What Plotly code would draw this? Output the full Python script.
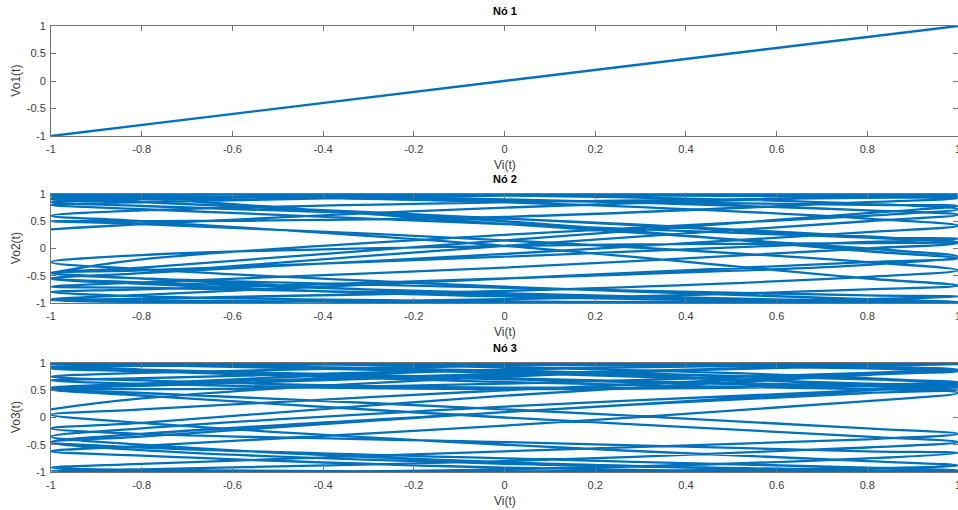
import plotly.graph_objects as go

# ---------------- data ----------------
titles = ["Nó 1", "Nó 2", "Nó 3"]
y_titles = ["Vo1(t)", "Vo2(t)", "Vo3(t)"]
x_title = "Vi(t)"
x_ticks = [-1, -0.8, -0.6, -0.4, -0.2, 0, 0.2, 0.4, 0.6, 0.8, 1]
x_ticklabels = ["-1", "-0.8", "-0.6", "-0.4", "-0.2", "0", "0.2", "0.4", "0.6", "0.8", "1"]
y_ticks = [-1, -0.5, 0, 0.5, 1]
y_ticklabels = ["-1", "-0.5", "0", "0.5", "1"]

# Node 1: output equals input
vi_node1 = [-1, 1]
vo_node1 = [-1, 1]

# Vi(t) knots for one full back-and-forth cycle (left edge -> right edge -> left edge)
vi_sweep_cycle = [-1, -0.8, 0, 0.8, 1, 0.8, 0, -0.8]

# Node 2: Vo2 read at each Vi knot, one row per sweep (first row includes its start edge)
vo_node2_sweeps = [
    [-0.45, -0.20, 0.25, 0.60, 0.72],
    [0.82, 0.97, 0.99, 0.97],
    [0.92, 0.45, 0.00, -0.15],
    [-0.30, -0.55, -0.75, -0.80],
    [-0.88, -0.97, -1.00, -0.98],
    [-0.93, -0.70, -0.38, -0.25],
    [-0.12, 0.05, 0.10, 0.12],
    [0.20, 0.55, 0.85, 0.93],
    [0.97, 0.90, 0.70, 0.62],
    [0.50, 0.05, -0.45, -0.55],
    [-0.65, -0.88, -0.97, -0.99],
    [-0.97, -0.82, -0.62, -0.55],
    [-0.45, -0.10, 0.30, 0.42],
    [0.55, 0.85, 0.98, 1.00],
    [0.98, 0.88, 0.80, 0.78],
    [0.65, 0.15, -0.35, -0.45],
    [-0.55, -0.72, -0.86, -0.88],
    [-0.93, -0.99, -0.95, -0.93],
    [-0.85, -0.55, -0.25, -0.18],
    [-0.05, 0.50, 0.85, 0.90],
    [0.93, 0.98, 0.95, 0.92],
    [0.85, 0.58, 0.50, 0.50],
    [0.45, 0.15, -0.25, -0.40],
    [-0.52, -0.78, -0.92, -0.95],
    [-0.98, -0.93, -0.75, -0.68],
    [-0.55, 0.05, 0.50, 0.60],
    [0.70, 0.85, 0.93, 0.95],
    [0.99, 0.97, 0.85, 0.80],
    [0.72, 0.45, 0.20, 0.18],
    [0.12, -0.15, -0.40, -0.45],
    [-0.55, -0.85, -0.98, -1.00],
    [-0.98, -0.85, -0.72, -0.70],
    [-0.62, -0.35, 0.00, 0.10],
    [0.22, 0.55, 0.78, 0.85],
    [0.90, 0.97, 0.99, 0.98],
    [0.95, 0.75, 0.45, 0.35],
]

# Node 3: Vo3 read at each Vi knot, one row per sweep
vo_node3_sweeps = [
    [0.15, 0.35, 0.75, 0.95, 0.98],
    [0.95, 0.80, 0.62, 0.55],
    [0.52, 0.62, 0.82, 0.88],
    [0.93, 0.99, 0.95, 0.90],
    [0.85, 0.65, 0.52, 0.50],
    [0.45, 0.10, -0.35, -0.45],
    [-0.55, -0.75, -0.92, -0.97],
    [-0.99, -0.92, -0.70, -0.62],
    [-0.52, -0.15, 0.30, 0.45],
    [0.58, 0.85, 0.97, 0.99],
    [0.97, 0.85, 0.70, 0.65],
    [0.60, 0.55, 0.68, 0.75],
    [0.82, 0.95, 1.00, 0.98],
    [0.95, 0.78, 0.58, 0.52],
    [0.45, 0.15, -0.20, -0.30],
    [-0.40, -0.62, -0.85, -0.92],
    [-0.96, -0.99, -0.93, -0.88],
    [-0.80, -0.50, -0.10, 0.05],
    [0.15, 0.50, 0.80, 0.88],
    [0.93, 0.99, 0.97, 0.93],
    [0.88, 0.70, 0.57, 0.55],
    [0.58, 0.72, 0.88, 0.92],
    [0.95, 0.98, 0.90, 0.85],
    [0.78, 0.40, -0.10, -0.20],
    [-0.30, -0.45, -0.62, -0.65],
    [-0.75, -0.95, -1.00, -0.98],
    [-0.95, -0.80, -0.55, -0.45],
    [-0.35, 0.00, 0.40, 0.52],
    [0.62, 0.88, 0.98, 1.00],
    [0.98, 0.88, 0.72, 0.68],
    [0.62, 0.52, 0.58, 0.62],
    [0.70, 0.86, 0.96, 0.98],
    [0.96, 0.82, 0.62, 0.58],
    [0.50, 0.20, -0.20, -0.35],
    [-0.50, -0.82, -0.97, -0.99],
    [-0.97, -0.85, -0.60, -0.45],
    [-0.30, 0.10, 0.50, 0.62],
    [0.72, 0.92, 0.99, 0.97],
]

# ---------------- figure ----------------
W, H = 958, 510
blue = "#0072BD"
axis_col = "#737373"
text_col = "#404040"
font_fam = "Liberation Sans, Arial, sans-serif"

def flatten(sweeps):
    ys = [v for row in sweeps for v in row]
    xs = [vi_sweep_cycle[i % len(vi_sweep_cycle)] for i in range(len(ys))]
    return xs, ys

x2, y2 = flatten(vo_node2_sweeps)
x3, y3 = flatten(vo_node3_sweeps)

fig = go.Figure()
fig.add_trace(go.Scatter(x=vi_node1, y=vo_node1, mode="lines",
                         line=dict(color=blue, width=2.4), xaxis="x", yaxis="y",
                         showlegend=False, hoverinfo="skip"))
fig.add_trace(go.Scatter(x=x2, y=y2, mode="lines",
                         line=dict(color=blue, width=2.3, shape="spline", smoothing=1.0),
                         xaxis="x2", yaxis="y2", showlegend=False, hoverinfo="skip"))
fig.add_trace(go.Scatter(x=x3, y=y3, mode="lines",
                         line=dict(color=blue, width=2.3, shape="spline", smoothing=1.0),
                         xaxis="x3", yaxis="y3", showlegend=False, hoverinfo="skip"))

# panel pixel boxes (top, bottom)
panels = [(26, 136), (194, 303), (363, 472)]

def ydom(top, bot):
    return [1 - bot / H, 1 - top / H]

axis_common = dict(showline=True, mirror="ticks", linecolor=axis_col, linewidth=1,
                   ticks="inside", ticklen=5, tickcolor=axis_col, tickwidth=1,
                   showgrid=False, zeroline=False, automargin=False,
                   ticklabeloverflow="allow",
                   tickfont=dict(family=font_fam, size=11, color=text_col))

layout = dict(template="none", width=W, height=H, paper_bgcolor="white", plot_bgcolor="white",
              margin=dict(l=51, r=0, t=0, b=0, pad=0), showlegend=False)

annotations = []
for i, (top, bot) in enumerate(panels):
    sx = "" if i == 0 else str(i + 1)
    layout["xaxis" + sx] = dict(axis_common, domain=[0, 1], range=[-1, 1],
                                tickvals=x_ticks, ticktext=x_ticklabels,
                                ticklabelstandoff=3, anchor="y" + sx)
    layout["yaxis" + sx] = dict(axis_common, domain=ydom(top, bot), range=[-1, 1],
                                tickvals=y_ticks, ticktext=y_ticklabels,
                                ticklabelstandoff=2, anchor="x" + sx)
    annotations.append(dict(text="<b>" + titles[i] + "</b>", xref="paper", yref="paper",
                            x=0.5, y=1 - (top - 15) / H, xanchor="center", yanchor="middle",
                            showarrow=False, font=dict(family=font_fam, size=11, color="#000000")))
    annotations.append(dict(text=x_title, xref="paper", yref="paper",
                            x=0.5, y=1 - (bot + 29) / H, xanchor="center", yanchor="middle",
                            showarrow=False, font=dict(family=font_fam, size=12, color=text_col)))
    annotations.append(dict(text=y_titles[i], xref="paper", yref="paper",
                            x=-0.039, y=1 - (top + bot) / 2 / H, xanchor="center", yanchor="middle",
                            textangle=-90, showarrow=False,
                            font=dict(family=font_fam, size=12, color=text_col)))

layout["annotations"] = annotations
fig.update_layout(**layout)
fig.write_html("out.html", config={"displayModeBar": False},
               post_script="document.body.style.margin='0';document.body.style.overflow='hidden';")
